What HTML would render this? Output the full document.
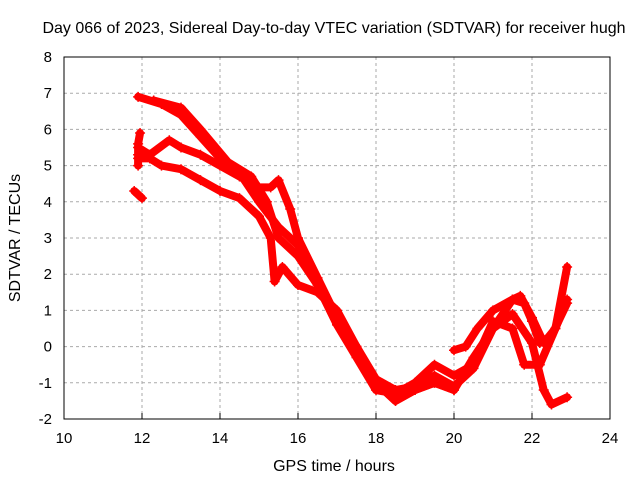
<!DOCTYPE html>
<html><head><meta charset="utf-8"><style>
body{margin:0;background:#fff}
text{font-family:"Liberation Sans",sans-serif;fill:#000}
</style></head><body>
<svg id="c" width="640" height="480" xmlns="http://www.w3.org/2000/svg">
<rect width="640" height="480" fill="#fff"/>
<text x="334" y="33" font-size="16" text-anchor="middle">Day 066 of 2023, Sidereal Day-to-day VTEC variation (SDTVAR) for receiver hugh</text>
<text x="334" y="471" font-size="16" text-anchor="middle">GPS time / hours</text>
<text x="20" y="238" font-size="16" text-anchor="middle" transform="rotate(-90 20 238)">SDTVAR / TECUs</text>
<g id="grid"></g><g id="data"></g>
<rect x="64" y="57" width="546" height="362" fill="none" stroke="#000"/>
</svg>
<script>
const xTicks=[10,12,14,16,18,20,22,24];
const yTicks=[-2,-1,0,1,2,3,4,5,6,7,8];
const sA_t=[11.9,12.5,13.0,13.5,14.0,14.5,15.0,15.5,16.0,16.5,17.0,17.5,18.0,18.5,19.0,19.5,20.0,20.5,21.0,21.5,22.0,22.3,22.5,22.9];
const sA_v=[6.9,6.7,6.4,5.8,5.2,4.8,4.0,3.3,2.8,1.8,0.8,0.0,-0.9,-1.2,-1.1,-0.8,-1.1,-0.6,0.5,0.9,0.1,-1.2,-1.6,-1.4];
const sB_t=[12.3,13.0,13.5,14.2,14.8,15.2,15.5,16.0,16.5,17.0,17.5,18.0,18.5,19.0,19.5,20.0,20.5,21.0,21.5,21.8,22.2,22.6,22.9];
const sB_v=[6.8,6.6,6.0,5.1,4.7,4.0,3.0,2.5,1.7,0.6,-0.3,-1.2,-1.3,-1.0,-0.5,-0.8,-0.5,0.7,0.5,-0.5,-0.5,0.5,1.3];
const sC_t=[11.9,12.2,12.7,13.0,13.5,14.0,14.5,15.0,15.3,15.5,15.8,16.0,16.5,17.0,17.5,18.0,18.5,19.0,19.5,20.0,20.5,21.0,21.5,21.7,22.0,22.3,22.6,22.9];
const sC_v=[5.5,5.3,5.7,5.5,5.3,5.0,4.7,4.4,4.4,4.6,3.8,3.0,1.9,0.8,0.0,-1.0,-1.5,-1.2,-1.0,-1.2,-0.3,0.5,1.3,1.4,0.8,0.1,0.5,2.2];
const sD_t=[11.9,12.2,12.5,13.0,13.5,14.0,14.5,15.0,15.3,15.4,15.6,16.0,16.5,17.0,17.5,18.0,18.5,19.0,19.5,20.0];
const sD_v=[5.2,5.2,5.0,4.9,4.6,4.3,4.1,3.6,3.0,1.8,2.2,1.7,1.5,1.0,0.0,-1.0,-1.5,-1.2,-1.0,-1.2];
const sE_t=[20.0,20.3,20.6,21.0,21.5,21.8,22.0,22.2,22.5,22.9];
const sE_v=[-0.1,0.0,0.5,1.0,1.3,1.2,0.7,0.1,0.3,1.2];
const sF_t=[11.8,11.9,12.0];
const sF_v=[4.3,4.2,4.1];
const sG_t=[11.9,11.9,11.9,11.95];
const sG_v=[5.0,5.3,5.6,5.9];
const X=t=>64+(t-10)*39, Y=v=>419-(v+2)*36.2;
const NS="http://www.w3.org/2000/svg";
const g=document.getElementById('grid'), d=document.getElementById('data');
function mk(tag,at,p){const e=document.createElementNS(NS,tag);for(const k in at)e.setAttribute(k,at[k]);p.appendChild(e);return e;}
xTicks.forEach(t=>{
 if(t>10&&t<24){const l=mk('line',{x1:X(t),x2:X(t),y1:57,y2:419,stroke:'#aaa','stroke-dasharray':'3,3'},g);
 
 }
 const tk=mk('line',{x1:X(t),x2:X(t),y1:419,y2:413,stroke:'#000'},g);
 
 
 const tx=mk('text',{x:X(t),y:443,'font-size':15,'text-anchor':'middle'},g);tx.textContent=t;
 
 
});
yTicks.forEach(v=>{
 if(v>-2&&v<8){const l=mk('line',{x1:64,x2:610,y1:Y(v),y2:Y(v),stroke:'#aaa','stroke-dasharray':'3,3'},g);
 
 }
 const tx=mk('text',{x:52,y:Y(v)+5,'font-size':15,'text-anchor':'end'},g);tx.textContent=v;
 
 
});
[[sA_t,sA_v,'series-a'],[sB_t,sB_v,'series-b'],[sC_t,sC_v,'series-c'],[sD_t,sD_v,'series-d'],[sE_t,sE_v,'series-e'],[sF_t,sF_v,'series-f'],[sG_t,sG_v,'series-g']].forEach(([ts,vs,n])=>{
 const pl=mk('polyline',{points:ts.map((t,i)=>X(t)+','+Y(vs[i])).join(' '),fill:'none',stroke:'#f00','stroke-width':8,'stroke-linejoin':'round','stroke-linecap':'round'},d);
 
 
 ts.forEach((t,i)=>{const x=X(t),y=Y(vs[i]);
  const p=mk('path',{d:`M${x-5},${y}H${x+5}M${x},${y-5}V${y+5}`,stroke:'#f00','stroke-width':1.5},d);
  
  });
});
</script>
</body></html>
